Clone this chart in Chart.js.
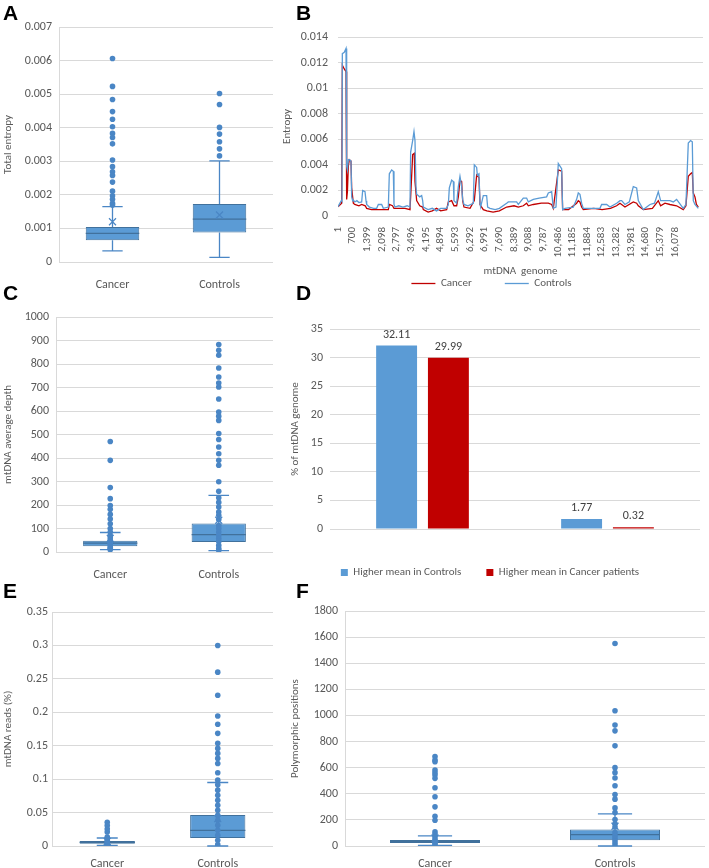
<!DOCTYPE html>
<html>
<head>
<meta charset="utf-8">
<title>mtDNA entropy, depth and reads</title>
<script src="https://cdn.jsdelivr.net/npm/chart.js@4.4.1/dist/chart.umd.min.js"></script>
<style>
  body { margin: 0; background: #fff; }
  #page { position: relative; width: 709px; height: 868px; overflow: hidden; }
  canvas { position: absolute; }
  .tag { position: absolute; font: bold 21px "Liberation Sans", Arial, sans-serif; line-height: 24px; color: #000; }
</style>
</head>
<body>
<div id="page">
  <canvas id="chartA" width="280" height="292" style="left:0;top:0"></canvas>
  <canvas id="chartB" width="429" height="299" style="left:280px;top:0"></canvas>
  <canvas id="chartC" width="280" height="296" style="left:0;top:284px"></canvas>
  <canvas id="chartD" width="429" height="296" style="left:280px;top:292px"></canvas>
  <canvas id="chartE" width="280" height="290" style="left:0;top:578px"></canvas>
  <canvas id="chartF" width="429" height="290" style="left:280px;top:578px"></canvas>
  <div class="tag" style="left:3px;top:1px">A</div>
  <div class="tag" style="left:296px;top:1px">B</div>
  <div class="tag" style="left:3px;top:281px">C</div>
  <div class="tag" style="left:296px;top:281px">D</div>
  <div class="tag" style="left:3px;top:579px">E</div>
  <div class="tag" style="left:296px;top:579px">F</div>
</div>
<script>
const boxLabels = ['Cancer', 'Controls'];

// box stats per group: [lower whisker, Q1, median, Q3, upper whisker, mean]
const entropyStats = [
  [0.00033, 0.00065, 0.00085, 0.00104, 0.00165, 0.0012],
  [0.00014, 0.00088, 0.00128, 0.00173, 0.00301, 0.0014]
];
const entropyCancer = [0.00606, 0.00523, 0.00484, 0.00448, 0.00425, 0.00403, 0.00383, 0.00371, 0.00352,
  0.00304, 0.00284, 0.00269, 0.00258, 0.00238, 0.00211, 0.00197, 0.00187, 0.00175, 0.0017];
const entropyControls = [0.00502, 0.00469, 0.00401, 0.00381, 0.00358, 0.00337, 0.00316];

const depthStats = [
  [10, 25, 38, 48, 83, 58],
  [6, 43, 74, 121, 241, 135]
];
const depthCancer = [470, 390, 274, 227, 198, 182, 160, 140, 120, 100, 85, 70, 60, 50, 42, 35, 28, 20, 15, 10];
const depthControls = [883, 858, 837, 783, 745, 719, 702, 651, 596, 578, 560, 504, 479, 447, 418, 390, 369,
  299, 258, 231, 211, 191, 170, 156, 138, 113, 100, 85, 70, 57, 45, 28, 15, 7];

const readsStats = [
  [0.001, 0.0035, 0.0055, 0.0075, 0.012, 0.007],
  [0, 0.012, 0.0235, 0.0465, 0.095, 0.041]
];
const readsCancer = [0.0355, 0.0305, 0.0255, 0.021, 0.0135, 0.011, 0.0085, 0.006, 0.004, 0.002, 0];
const readsControls = [0.3, 0.26, 0.2255, 0.1945, 0.182, 0.1685, 0.1535, 0.146, 0.1385, 0.131, 0.1235,
  0.1095, 0.0985, 0.0915, 0.0835, 0.076, 0.0685, 0.061, 0.0535, 0.046, 0.0385, 0.031, 0.0235, 0.016, 0.0085, 0.002];

const polyStats = [
  [5, 23, 33, 46, 77, 60],
  [0, 44, 87, 126, 246, 151]
];
const polyCancer = [685, 659, 646, 582, 562, 544, 518, 446, 377, 300, 228, 197, 108, 90, 69, 49, 35, 20, 8];
const polyControls = [1551, 1036, 926, 882, 767, 600, 562, 521, 462, 395, 359, 292, 256, 203, 170, 146,
  103, 80, 60, 40, 20, 0];

const sigLabels = ['All', 'Significant'];
const higherControls = [32.11, 1.77];
const higherCancer = [29.99, 0.32];

const genomeTicks = [1, 700, 1399, 2098, 2797, 3496, 4195, 4894, 5593, 6292, 6991, 7690, 8389, 9088,
  9787, 10486, 11185, 11884, 12583, 13282, 13981, 14680, 15379, 16078];

// [genome position, entropy]
const controlsTrace = [[1, 0.00073], [176, 0.00125], [190, 0.0012], [208, 0.0127], [300, 0.0128], [383, 0.0131],
  [414, 0.0039], [450, 0.0036], [494, 0.0044], [542, 0.0044], [621, 0.0043], [653, 0.0015], [700, 0.0012],
  [732, 0.00125], [800, 0.0011], [900, 0.0012], [1000, 0.00105], [1130, 0.0011], [1178, 0.002], [1289, 0.0019],
  [1337, 0.0012], [1368, 0.0009], [1500, 0.0007], [1700, 0.0006], [1845, 0.0006], [1925, 0.0009], [2084, 0.0009],
  [2163, 0.0006], [2402, 0.0007], [2450, 0.0033], [2561, 0.0036], [2640, 0.0035], [2672, 0.0009], [2720, 0.0007],
  [2900, 0.0008], [3100, 0.0007], [3300, 0.0008], [3435, 0.0007], [3467, 0.005], [3563, 0.0059], [3626, 0.0066],
  [3674, 0.0059], [3722, 0.0023], [3753, 0.0017], [3900, 0.0015], [3992, 0.0016], [4040, 0.0012], [4071, 0.0007],
  [4300, 0.0005], [4500, 0.0006], [4700, 0.0004], [4900, 0.0006], [5184, 0.0006], [5264, 0.0009], [5312, 0.0022],
  [5423, 0.0028], [5503, 0.0027], [5534, 0.0012], [5661, 0.001], [5741, 0.0023], [5820, 0.0031], [5900, 0.0023],
  [5948, 0.0013], [6011, 0.0009], [6200, 0.0008], [6456, 0.001], [6504, 0.004], [6616, 0.0038], [6647, 0.0032],
  [6727, 0.0033], [6775, 0.001], [6806, 0.0007], [6933, 0.0016], [7092, 0.0016], [7140, 0.0007], [7251, 0.0006],
  [7500, 0.0005], [7700, 0.0006], [8047, 0.001], [8126, 0.0011], [8524, 0.0011], [8603, 0.0009], [8841, 0.0014],
  [9000, 0.0014], [9080, 0.0011], [9318, 0.0013], [9600, 0.0014], [9954, 0.0015], [10034, 0.0018], [10193, 0.0019],
  [10272, 0.0006], [10400, 0.0007], [10511, 0.0041], [10670, 0.0037], [10718, 0.0005], [10829, 0.0006],
  [11226, 0.0007], [11385, 0.0013], [11465, 0.0018], [11544, 0.0017], [11624, 0.001], [11703, 0.0006],
  [12100, 0.0006], [12498, 0.0006], [12578, 0.0009], [12817, 0.0009], [12976, 0.0007], [13294, 0.001],
  [13453, 0.0012], [13532, 0.0012], [13691, 0.0009], [13900, 0.0011], [14089, 0.0023], [14248, 0.0022],
  [14327, 0.0012], [14566, 0.0005], [14884, 0.0009], [15100, 0.001], [15281, 0.0019], [15392, 0.0012],
  [15519, 0.0012], [15837, 0.0012], [15996, 0.0011], [16155, 0.0013], [16473, 0.0006], [16600, 0.0009],
  [16712, 0.0057], [16823, 0.0059], [16903, 0.0058], [16951, 0.0012], [17030, 0.0009], [17189, 0.0006]];

const cancerTrace = [[1, 0.00073], [176, 0.001], [208, 0.0118], [300, 0.0115], [383, 0.0113], [414, 0.0013],
  [450, 0.0019], [494, 0.0039], [542, 0.0044], [621, 0.0043], [653, 0.0022], [732, 0.001], [800, 0.0009],
  [1000, 0.0008], [1130, 0.0009], [1300, 0.0008], [1368, 0.0006], [1600, 0.0005], [1900, 0.0005], [2163, 0.0005],
  [2402, 0.0005], [2450, 0.0009], [2600, 0.0008], [2672, 0.0006], [2900, 0.0006], [3200, 0.0006], [3435, 0.0005],
  [3467, 0.0015], [3563, 0.0048], [3640, 0.0049], [3674, 0.0027], [3753, 0.0012], [3900, 0.0008], [4040, 0.0007],
  [4071, 0.0005], [4300, 0.0003], [4500, 0.0004], [4700, 0.0006], [4900, 0.0004], [5184, 0.0005], [5264, 0.0011],
  [5423, 0.0012], [5534, 0.0008], [5661, 0.0008], [5741, 0.0015], [5820, 0.0028], [5900, 0.0027], [5948, 0.0012],
  [6011, 0.0007], [6300, 0.0006], [6504, 0.0012], [6616, 0.0032], [6727, 0.003], [6775, 0.0009], [6933, 0.0005],
  [7100, 0.0004], [7400, 0.0003], [7700, 0.0004], [8047, 0.0007], [8400, 0.0008], [8603, 0.0007], [8841, 0.0008],
  [9000, 0.001], [9080, 0.0008], [9318, 0.0009], [9700, 0.001], [10034, 0.001], [10193, 0.0009], [10272, 0.0006],
  [10511, 0.0036], [10670, 0.0035], [10718, 0.0005], [11000, 0.0005], [11385, 0.001], [11465, 0.0012],
  [11544, 0.0011], [11624, 0.0007], [11703, 0.0005], [12200, 0.0006], [12600, 0.0005], [13000, 0.0006],
  [13294, 0.0008], [13453, 0.001], [13691, 0.0007], [14089, 0.0011], [14248, 0.001], [14327, 0.0008],
  [14566, 0.0005], [15000, 0.0006], [15281, 0.0012], [15392, 0.0008], [15600, 0.001], [15837, 0.0009],
  [16155, 0.0008], [16473, 0.0005], [16600, 0.0008], [16712, 0.0031], [16823, 0.0033], [16903, 0.0034],
  [16951, 0.0018], [17030, 0.0015], [17100, 0.0009], [17189, 0.0007]];

const gridColor = '#d9d9d9';
const txt = '#595959';
const boxFill = '#5b9bd5';
const boxEdge = '#41719c';
const whiskerColor = '#4a86c5';
const dotColor = '#4a86c5';

Chart.defaults.font.family = 'Carlito, Lato, sans-serif';
Chart.defaults.font.size = 11;
Chart.defaults.color = txt;
Chart.defaults.animation = false;
Chart.defaults.responsive = false;

const fmt = v => String(parseFloat(Number(v).toFixed(4)));

// whiskers, median and mean for the box charts
const boxExtras = {
  id: 'boxExtras',
  beforeDatasetsDraw(chart, args, opts) {
    const ctx = chart.ctx, x = chart.scales.x, y = chart.scales.y;
    const bw = chart.getDatasetMeta(0).data[0].width;
    const cap = bw * 0.19;
    ctx.save();
    ctx.strokeStyle = whiskerColor;
    ctx.lineWidth = 1.3;
    opts.stats.forEach((s, i) => {
      const cx = x.getPixelForValue(i);
      const lo = y.getPixelForValue(s[0]), q1 = y.getPixelForValue(s[1]);
      const q3 = y.getPixelForValue(s[3]), hi = y.getPixelForValue(s[4]);
      ctx.beginPath();
      ctx.moveTo(cx, lo); ctx.lineTo(cx, q1);
      ctx.moveTo(cx, q3); ctx.lineTo(cx, hi);
      ctx.moveTo(cx - cap, lo); ctx.lineTo(cx + cap, lo);
      ctx.moveTo(cx - cap, hi); ctx.lineTo(cx + cap, hi);
      ctx.stroke();
    });
    ctx.restore();
  },
  afterDatasetDraw(chart, args, opts) {
    if (args.index !== 0) return;
    const ctx = chart.ctx, x = chart.scales.x, y = chart.scales.y;
    const bw = chart.getDatasetMeta(0).data[0].width;
    ctx.save();
    opts.stats.forEach((s, i) => {
      const cx = x.getPixelForValue(i);
      const my = y.getPixelForValue(s[2]);
      ctx.strokeStyle = boxEdge;
      ctx.lineWidth = 1.2;
      ctx.beginPath();
      ctx.moveTo(cx - bw / 2, my); ctx.lineTo(cx + bw / 2, my);
      ctx.stroke();
      const ay = y.getPixelForValue(s[5]);
      ctx.strokeStyle = whiskerColor;
      ctx.beginPath();
      ctx.moveTo(cx - 3.5, ay - 3.5); ctx.lineTo(cx + 3.5, ay + 3.5);
      ctx.moveTo(cx + 3.5, ay - 3.5); ctx.lineTo(cx - 3.5, ay + 3.5);
      ctx.stroke();
    });
    ctx.restore();
  }
};

function boxChart(id, stats, cancerPts, controlsPts, yMax, yStep, yTitle, yWidth, top, right, xHeight, titlePad, tickPad, xPad) {
  const points = cancerPts.map(v => ({ x: boxLabels[0], y: v }))
    .concat(controlsPts.map(v => ({ x: boxLabels[1], y: v })));
  return new Chart(document.getElementById(id), {
    type: 'bar',
    data: {
      labels: boxLabels,
      datasets: [
        {
          data: stats.map(s => [s[1], s[3]]),
          backgroundColor: boxFill,
          borderColor: boxEdge,
          borderWidth: 1,
          borderSkipped: false,
          categoryPercentage: 1,
          barPercentage: 0.5,
          order: 1
        },
        {
          type: 'scatter',
          data: points,
          backgroundColor: dotColor,
          borderWidth: 0,
          pointRadius: 2.8,
          order: 0
        }
      ]
    },
    options: {
      layout: { padding: { top: top, right: right, left: 0, bottom: 0 } },
      plugins: {
        legend: { display: false },
        tooltip: { enabled: false },
        boxExtras: { stats: stats }
      },
      scales: {
        x: {
          grid: { display: false },
          border: { display: false },
          ticks: { padding: xPad, font: { size: 12 } },
          afterFit: s => { s.height = xHeight; }
        },
        y: {
          min: 0,
          max: yMax,
          ticks: { stepSize: yStep, padding: tickPad, font: { size: 12 }, callback: fmt },
          grid: { color: gridColor, drawTicks: false },
          border: { display: true, color: gridColor },
          title: { display: true, text: yTitle, padding: { top: titlePad, bottom: 0 } },
          afterFit: s => { s.width = yWidth; }
        }
      }
    },
    plugins: [boxExtras]
  });
}

boxChart('chartA', entropyStats, entropyCancer, entropyControls, 0.007, 0.001, 'Total entropy', 59, 27, 7, 30, 2, 7, 8);
boxChart('chartC', depthStats, depthCancer, depthControls, 1000, 100, 'mtDNA average depth', 56, 33, 7, 28, 2, 7, 8);
boxChart('chartE', readsStats, readsCancer, readsControls, 0.35, 0.05, 'mtDNA reads (%)', 52, 34, 7, 22, 2, 4, 3);
boxChart('chartF', polyStats, polyCancer, polyControls, 1800, 200, 'Polymorphic positions', 65, 33, 2, 22, 9, 7, 3);

// B: entropy along the genome
new Chart(document.getElementById('chartB'), {
  type: 'line',
  data: {
    datasets: [
      {
        label: 'Controls',
        data: controlsTrace.map(p => ({ x: p[0], y: p[1] })),
        borderColor: '#5b9bd5',
        borderWidth: 1.3,
        pointRadius: 0
      },
      {
        label: 'Cancer',
        data: cancerTrace.map(p => ({ x: p[0], y: p[1] })),
        borderColor: '#c00000',
        borderWidth: 1.3,
        pointRadius: 0
      }
    ]
  },
  options: {
    layout: { padding: { top: 37, right: 6, left: 0, bottom: 0 } },
    plugins: {
      tooltip: { enabled: false },
      legend: {
        position: 'bottom',
        reverse: true,
        labels: {
          usePointStyle: true,
          pointStyle: 'line',
          pointStyleWidth: 24,
          padding: 0,
          generateLabels: chart => Chart.defaults.plugins.legend.labels.generateLabels(chart).map(item => {
            if (item.datasetIndex === 1) item.text += '\u2003\u2003\u2003';
            return item;
          })
        }
      }
    },
    scales: {
      x: {
        type: 'linear',
        min: 1,
        max: 17414,
        afterBuildTicks: s => { s.ticks = genomeTicks.map(v => ({ value: v })); },
        ticks: {
          autoSkip: false,
          minRotation: 90,
          maxRotation: 90,
          padding: 3,
          callback: v => Number(v).toLocaleString('en-US')
        },
        grid: { display: false },
        border: { display: true, color: gridColor },
        title: { display: true, text: 'mtDNA  genome', padding: { top: 0, bottom: 0 } },
        afterFit: s => { s.height = 62; }
      },
      y: {
        min: 0,
        max: 0.014,
        ticks: { stepSize: 0.002, padding: 10, font: { size: 12 }, callback: fmt },
        grid: { color: gridColor, drawTicks: false },
        border: { display: false },
        title: { display: true, text: 'Entropy', padding: { top: 1, bottom: 0 } },
        afterFit: s => { s.width = 58; }
      }
    }
  }
});

// D: share of the genome with higher mean entropy
const valueLabels = {
  id: 'valueLabels',
  afterDatasetsDraw(chart) {
    const ctx = chart.ctx;
    ctx.save();
    ctx.font = '12px Carlito, Lato, sans-serif';
    ctx.fillStyle = '#404040';
    ctx.textAlign = 'center';
    ctx.textBaseline = 'bottom';
    chart.data.datasets.forEach((ds, i) => {
      chart.getDatasetMeta(i).data.forEach((bar, j) => {
        ctx.fillText(ds.data[j].toFixed(2), bar.x, bar.y - 5);
      });
    });
    ctx.restore();
  }
};

new Chart(document.getElementById('chartD'), {
  type: 'bar',
  data: {
    labels: sigLabels,
    datasets: [
      { label: 'Higher mean in Controls', data: higherControls, backgroundColor: '#5b9bd5',
        categoryPercentage: 0.56, barPercentage: 0.79 },
      { label: 'Higher mean in Cancer patients', data: higherCancer, backgroundColor: '#c00000',
        categoryPercentage: 0.56, barPercentage: 0.79 }
    ]
  },
  options: {
    layout: { padding: { top: 37, right: 9, left: 0, bottom: 0 } },
    plugins: {
      tooltip: { enabled: false },
      legend: {
        position: 'bottom',
        labels: { boxWidth: 7, boxHeight: 7, padding: 25 }
      }
    },
    scales: {
      x: {
        grid: { display: false },
        border: { display: false },
        ticks: { padding: 8, font: { size: 12 } },
        afterFit: s => { s.height = 13; }
      },
      y: {
        min: 0,
        max: 35,
        ticks: { stepSize: 5, padding: 7, font: { size: 12 } },
        grid: { color: gridColor, drawTicks: false },
        border: { display: false },
        title: { display: true, text: '% of mtDNA genome', padding: { top: 9, bottom: 0 } },
        afterFit: s => { s.width = 50; }
      }
    }
  },
  plugins: [valueLabels]
});
</script>
</body>
</html>
